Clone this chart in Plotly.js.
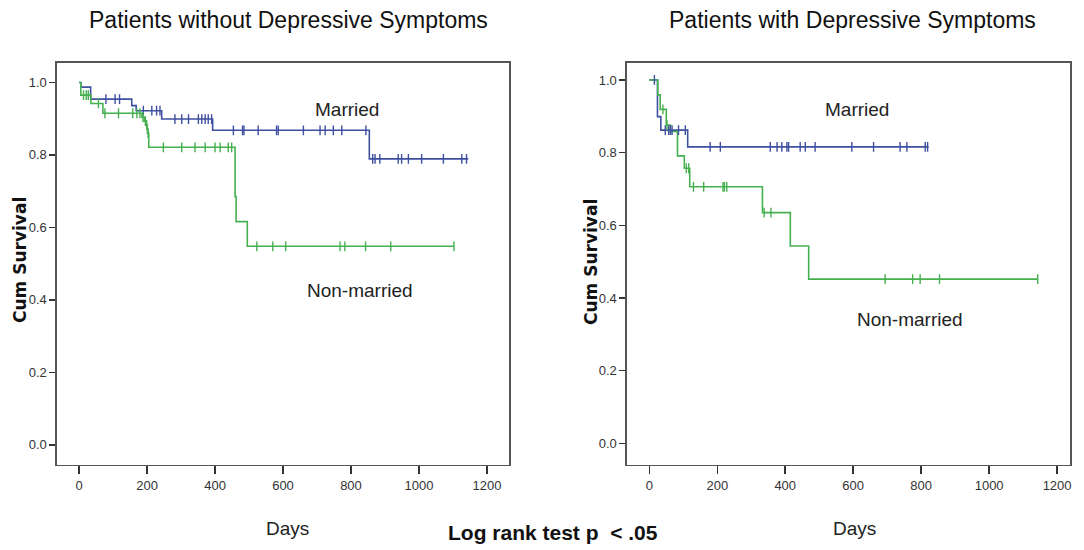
<!DOCTYPE html>
<html>
<head>
<meta charset="utf-8">
<script src="https://cdn.plot.ly/plotly-3.0.1.min.js"></script>
<style>html,body{margin:0;padding:0;background:#fff;}#chart{width:1084px;height:550px;}</style>
</head>
<body>
<div id="chart"></div>
<script>
// ---------- DATA ----------
// Left panel: Patients without Depressive Symptoms
var leftMarriedTimes = [0, 5, 34, 155, 168, 243, 393, 854];
var leftMarriedSurv  = [1.0, 0.987, 0.954, 0.936, 0.922, 0.899, 0.868, 0.789];
var leftMarriedEnd = 1145;
var leftMarriedCensor = [79, 106, 119, 189, 214, 228, 238, 282, 302, 322, 351, 361, 371, 380, 390,
                         454, 481, 485, 527, 581, 586, 660, 709, 724, 748, 773, 844,
                         864, 871, 885, 939, 949, 969, 1008, 1072, 1126, 1140];

var leftNonTimes = [0, 5, 35, 70, 185, 192, 197, 200, 202, 205, 459, 462, 495];
var leftNonSurv  = [1.0, 0.965, 0.942, 0.915, 0.904, 0.893, 0.882, 0.871, 0.860, 0.821, 0.685, 0.616, 0.548];
var leftNonEnd = 1103;
var leftNonCensor = [13, 21, 27, 57, 76, 116, 158, 170, 179, 188, 195, 199, 201, 203,
                     248, 302, 341, 371, 400, 415, 439, 449,
                     523, 570, 608, 768, 782, 843, 917, 1103];

// Right panel: Patients with Depressive Symptoms
var rightMarriedTimes = [0, 24, 34, 113];
var rightMarriedSurv  = [1.0, 0.899, 0.862, 0.816];
var rightMarriedEnd = 822;
var rightMarriedCensor = [15, 47, 57, 62, 67, 86, 106, 179, 209, 356, 376, 390, 405, 410, 444, 459, 488,
                          596, 660, 738, 758, 812, 819];

var rightNonTimes = [0, 25, 32, 50, 62, 83, 103, 119, 333, 415, 469];
var rightNonSurv  = [1.0, 0.959, 0.919, 0.876, 0.858, 0.791, 0.757, 0.706, 0.635, 0.543, 0.452];
var rightNonEnd = 1143;
var rightNonCensor = [40, 52, 109, 116, 130, 160, 217, 221, 228, 338, 358, 694, 775, 797, 854, 1143];

var xTickVals = [0, 200, 400, 600, 800, 1000, 1200];
var yTickVals = [0.0, 0.2, 0.4, 0.6, 0.8, 1.0];

var panelTitles = ["Patients without Depressive Symptoms", "Patients with Depressive Symptoms"];
var groupLabels = ["Married", "Non-married"];
var yTitle = "Cum Survival";
var xTitle = "Days";
var testNote = "Log rank test p\u00a0 < .05";

// ---------- helpers ----------
var BLUE = "#3f50a0", GREEN = "#46b04f";
function survAt(times, surv, t) {
  var s = surv[0];
  for (var i = 0; i < times.length; i++) { if (times[i] <= t) s = surv[i]; }
  return s;
}
function curve(times, surv, end, color, xa, ya) {
  return {
    x: times.concat([end]), y: surv.concat([surv[surv.length - 1]]),
    xaxis: xa, yaxis: ya, type: "scatter", mode: "lines",
    line: {shape: "hv", color: color, width: 1.6}, hoverinfo: "skip", showlegend: false
  };
}
function censor(times, surv, cens, color, xa, ya) {
  return {
    x: cens, y: cens.map(function (t) { return survAt(times, surv, t); }),
    xaxis: xa, yaxis: ya, type: "scatter", mode: "markers",
    marker: {symbol: "line-ns-open", size: 7, color: color, line: {color: color, width: 1.4}},
    hoverinfo: "skip", showlegend: false
  };
}

var data = [
  curve(leftMarriedTimes, leftMarriedSurv, leftMarriedEnd, BLUE, "x", "y"),
  curve(leftNonTimes, leftNonSurv, leftNonEnd, GREEN, "x", "y"),
  censor(leftMarriedTimes, leftMarriedSurv, leftMarriedCensor, BLUE, "x", "y"),
  censor(leftNonTimes, leftNonSurv, leftNonCensor, GREEN, "x", "y"),
  curve(rightMarriedTimes, rightMarriedSurv, rightMarriedEnd, BLUE, "x2", "y2"),
  curve(rightNonTimes, rightNonSurv, rightNonEnd, GREEN, "x2", "y2"),
  censor(rightMarriedTimes, rightMarriedSurv, rightMarriedCensor, BLUE, "x2", "y2"),
  censor(rightNonTimes, rightNonSurv, rightNonCensor, GREEN, "x2", "y2")
];

var W = 1084, H = 550;
function px(x) { return x / W; }
function py(y) { return 1 - y / H; }

var tickFont = {family: "Liberation Sans Narrow, Liberation Sans, Arial", size: 13, color: "#333"};
function xaxis(domain, range) {
  return {domain: domain, range: range, tickvals: xTickVals, ticks: "outside", ticklen: 8, tickwidth: 1.5,
          tickcolor: "#333", showline: true, mirror: true, linecolor: "#555", linewidth: 1.6,
          showgrid: false, zeroline: false, tickfont: tickFont, fixedrange: true};
}
function yaxis(domain, range, anchor) {
  return {domain: domain, range: range, tickvals: yTickVals, tickformat: ".1f", ticks: "outside", ticklen: 6,
          tickwidth: 1.5, tickcolor: "#333", showline: true, mirror: true, linecolor: "#555", linewidth: 1.6,
          showgrid: false, zeroline: false, tickfont: tickFont, anchor: anchor, fixedrange: true};
}

var yDom = [py(464.5), py(62.5)];
var titleFont = {family: "Liberation Sans, Arial", size: 23, color: "#111"};
var labelFont = {family: "Liberation Sans, Arial", size: 19, color: "#222"};
var yTitleFont = {family: "DejaVu Sans, Liberation Sans", size: 17, color: "#111", weight: "bold"};

function ann(text, x, y, font, extra) {
  var a = {text: text, x: px(x), y: py(y), xref: "paper", yref: "paper", showarrow: false,
           xanchor: "center", yanchor: "middle", font: font};
  if (extra) for (var k in extra) a[k] = extra[k];
  return a;
}

var layout = {
  width: W, height: H, margin: {l: 0, r: 0, t: 0, b: 0},
  paper_bgcolor: "#fff", plot_bgcolor: "#fff", showlegend: false,
  xaxis: xaxis([px(57), px(509)], [-65, 1265]),
  yaxis: yaxis(yDom, [-0.054, 1.055], "x"),
  xaxis2: xaxis([px(627), px(1070)], [-65.6, 1238]),
  yaxis2: yaxis(yDom, [-0.058, 1.048], "x2"),
  annotations: [
    ann(panelTitles[0], 288, 20, titleFont),
    ann(panelTitles[1], 852, 20, titleFont),
    ann(groupLabels[0], 347, 109, labelFont),
    ann(groupLabels[1], 360, 290, labelFont),
    ann(groupLabels[0], 857, 109, labelFont),
    ann(groupLabels[1], 910, 319, labelFont),
    ann(yTitle, 20, 260, yTitleFont, {textangle: -90}),
    ann(yTitle, 591, 262, yTitleFont, {textangle: -90}),
    ann(xTitle, 287, 528, {family: "Liberation Sans, Arial", size: 19, color: "#222"}),
    ann(xTitle, 854, 528, {family: "Liberation Sans, Arial", size: 19, color: "#222"}),
    ann(testNote, 553, 532, {family: "Liberation Sans, Arial", size: 21, color: "#111", weight: "bold"})
  ]
};

Plotly.newPlot("chart", data, layout, {displayModeBar: false, staticPlot: true});
</script>
</body>
</html>
